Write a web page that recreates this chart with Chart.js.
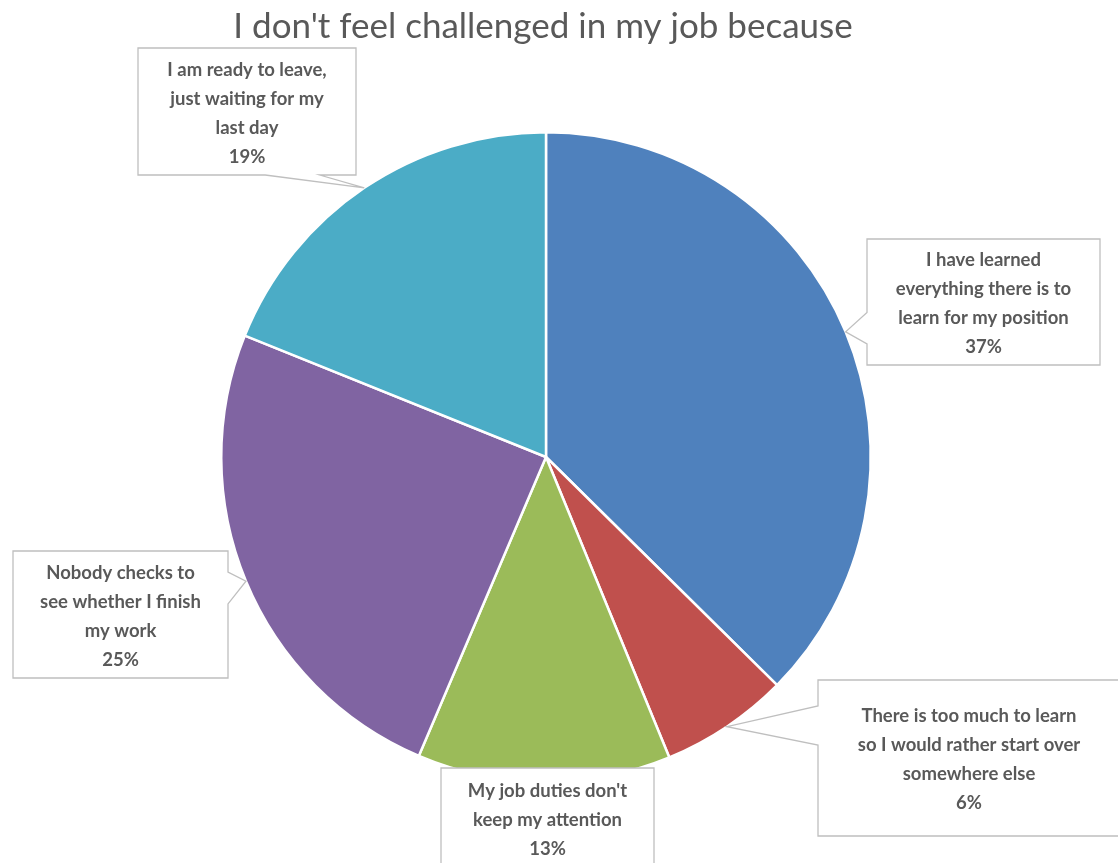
<!DOCTYPE html>
<html>
<head>
<meta charset="utf-8">
<script src="https://cdn.jsdelivr.net/npm/chart.js@4"></script>
<style>
  body { margin: 0; background: #fff; }
  canvas { display: block; }
</style>
</head>
<body>
<canvas id="pieChart" width="1118" height="863"></canvas>
<script>
var chartTitle = "I don't feel challenged in my job because";

// each category is split into the lines shown in its callout
var categories = [
    ["I have learned", "everything there is to", "learn for my position"],
    ["There is too much to learn", "so I would rather start over", "somewhere else"],
    ["My job duties don't", "keep my attention"],
    ["Nobody checks to", "see whether I finish", "my work"],
    ["I am ready to leave,", "just waiting for my", "last day"]
];
var values = [37.4, 6.4, 12.6, 24.7, 18.9];
var sliceColors = ["#4F81BD", "#C0504D", "#9BBB59", "#8064A2", "#4BACC6"];

// callout boxes: [left, top, width, height]
var boxes = [
    [867, 239, 233, 126],
    [818, 680, 302, 156],
    [441, 768, 213, 100],
    [13, 551, 215, 127],
    [138, 48, 218, 127]
];

var textColor = "#595959";
var lineGap = 29;

function calloutPath(ctx, b, ax, ay) {
    var x = b[0], y = b[1], w = b[2], h = b[3];
    var cx = x + w / 2, cy = y + h / 2;
    var inside = ax > x && ax < x + w && ay > y && ay < y + h;
    var side = null;
    if (!inside) {
        var nx = (ax - cx) / (w / 2), ny = (ay - cy) / (h / 2);
        if (Math.abs(nx) > Math.abs(ny)) {
            side = nx > 0 ? "right" : "left";
        } else {
            side = ny > 0 ? "bottom" : "top";
        }
    }
    function base(start, len, pos) {
        var t = (pos - start) / len;
        if (t > 0.5) return [start + len * 7 / 12, start + len * 5 / 6];
        return [start + len / 6, start + len * 5 / 12];
    }
    ctx.beginPath();
    ctx.moveTo(x, y);
    if (side == "top") {
        var p = base(x, w, ax);
        ctx.lineTo(p[0], y); ctx.lineTo(ax, ay); ctx.lineTo(p[1], y);
    }
    ctx.lineTo(x + w, y);
    if (side == "right") {
        var p = base(y, h, ay);
        ctx.lineTo(x + w, p[0]); ctx.lineTo(ax, ay); ctx.lineTo(x + w, p[1]);
    }
    ctx.lineTo(x + w, y + h);
    if (side == "bottom") {
        var p = base(x, w, ax);
        ctx.lineTo(p[1], y + h); ctx.lineTo(ax, ay); ctx.lineTo(p[0], y + h);
    }
    ctx.lineTo(x, y + h);
    if (side == "left") {
        var p = base(y, h, ay);
        ctx.lineTo(x, p[1]); ctx.lineTo(ax, ay); ctx.lineTo(x, p[0]);
    }
    ctx.closePath();
}

var calloutPlugin = {
    id: "callouts",
    afterDraw: function(chart) {
        var ctx = chart.ctx;
        var arcs = chart.getDatasetMeta(0).data;
        var total = values.reduce(function(a, b) { return a + b; }, 0);

        ctx.save();
        ctx.fillStyle = textColor;
        ctx.font = "35px Lato";
        ctx.textAlign = "center";
        ctx.textBaseline = "middle";
        ctx.fillText(chartTitle, 543, 27);
        ctx.restore();

        for (let i = 0; i < arcs.length; i++) {
            var arc = arcs[i];
            var mid = (arc.startAngle + arc.endAngle) / 2;
            var ax = arc.x + Math.cos(mid) * arc.outerRadius;
            var ay = arc.y + Math.sin(mid) * arc.outerRadius;
            var b = boxes[i];

            ctx.save();
            calloutPath(ctx, b, ax, ay);
            ctx.fillStyle = "#ffffff";
            ctx.fill();
            ctx.strokeStyle = "#BFBFBF";
            ctx.lineWidth = 1.3;
            ctx.stroke();

            var lines = categories[i].concat([Math.round(values[i] / total * 100) + "%"]);
            ctx.fillStyle = textColor;
            ctx.font = "bold 18.5px Lato";
            ctx.textAlign = "center";
            ctx.textBaseline = "middle";
            var cx = b[0] + b[2] / 2;
            var cy = b[1] + b[3] / 2 + 2;
            var startY = cy - (lines.length - 1) * lineGap / 2;
            for (let j = 0; j < lines.length; j++) {
                ctx.fillText(lines[j], cx, startY + j * lineGap);
            }
            ctx.restore();
        }
    }
};

var elem = document.getElementById("pieChart").getContext("2d");

const newChart = new Chart(elem, {
    type: "pie",
    data: {
        labels: categories,
        datasets: [{
            data: values,
            backgroundColor: sliceColors,
            borderColor: "#ffffff",
            borderWidth: 2.5
        }]
    },
    options: {
        responsive: false,
        animation: false,
        layout: {
            padding: { left: 220, right: 246, top: 131, bottom: 80 }
        },
        plugins: {
            legend: { display: false },
            title: { display: false },
            tooltip: { enabled: false }
        }
    },
    plugins: [calloutPlugin]
});
</script>
</body>
</html>
